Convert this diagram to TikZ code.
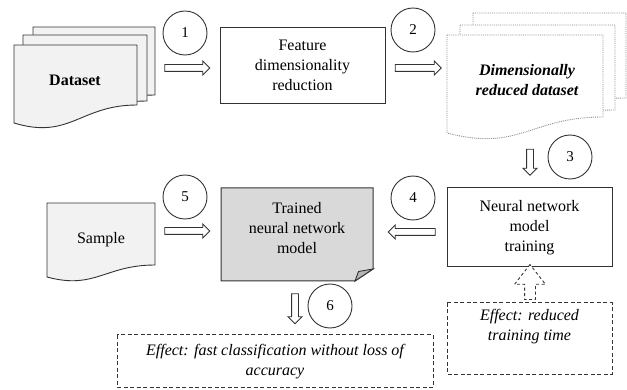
\documentclass[tikz,border=0pt]{standalone}
\usepackage{fontspec}
\setmainfont{Liberation Serif}
\usetikzlibrary{shapes.arrows}
\definecolor{linec}{HTML}{333333}
\definecolor{docfill}{HTML}{F2F2F2}
\definecolor{trainedfill}{HTML}{D9D9D9}
\definecolor{foldfill}{HTML}{B5B5B5}
\definecolor{dotc}{HTML}{8C8C8C}
\tikzset{
  docsolid/.style={draw=linec, fill=docfill, line width=0.9pt},
  docdotted/.style={draw=dotc, fill=white, line width=0.9pt, densely dotted},
  plainbox/.style={draw=linec, line width=1pt, minimum width=165pt, minimum height=76pt, align=center, fill=white},
  numcircle/.style={circle, draw=linec, line width=0.9pt, minimum size=44pt, inner sep=0pt, font=\fontsize{15}{18}\selectfont},
  dashbox/.style={draw=linec, line width=1pt, dash pattern=on 4pt off 2.5pt},
  blockarrow/.style={single arrow, draw=linec, fill=white, line width=0.9pt, inner sep=0pt,
     text height=0pt, text depth=0pt, inner ysep=3pt, single arrow head extend=3.5pt},
  txt/.style={align=center, inner sep=0pt}
}
\begin{document}
\begin{tikzpicture}[x=1pt,y=-1pt,font=\fontsize{16}{20}\selectfont]
\useasboundingbox (0,0) rectangle (627,390);

% Dataset stack
\draw[docsolid] (33,27) -- (155,27) -- (155,95) .. controls (94,95) and (88,130) .. (33,113) -- cycle;
\draw[docsolid] (23,35) -- (147,35) -- (147,101) .. controls (85,101) and (75,136) .. (23,118) -- cycle;
\draw[docsolid] (14,45) -- (137,45) -- (137,105) .. controls (80,105) and (70,140) .. (14,123) -- cycle;
\node[txt, font=\fontsize{16}{20}\selectfont\bfseries] (dataset) at (75,80) {Dataset};

% circle 1 and arrow 1
\node[numcircle] (c1) at (185,33) {1};
\node[blockarrow, minimum height=45pt] (a1) at (185.5,68) {};

% Feature box
\node[plainbox] (feat) at (302.5,65.5) {Feature\\dimensionality\\reduction};

% circle 2 and arrow 2
\node[numcircle] (c2) at (413,30) {2};
\node[blockarrow, minimum height=46pt] (a2) at (416.5,68) {};

% Dimensionally reduced dataset (dotted stack)
\draw[docdotted] (473,13) -- (626,13) -- (626,98) .. controls (550,98) and (540,132) .. (473,114) -- cycle;
\draw[docdotted] (460,25) -- (615,25) -- (615,110) .. controls (540,110) and (530,145) .. (460,126) -- cycle;
\draw[docdotted] (447,35) -- (603,35) -- (603,117) .. controls (530,117) and (520,152) .. (447,133) -- cycle;
\node[txt, font=\fontsize{16}{20}\selectfont\bfseries\itshape] (dimred) at (527,80) {Dimensionally\\reduced dataset};

% circle 3 and arrow 3
\node[numcircle] (c3) at (570,157) {3};
\node[blockarrow, minimum height=26pt, rotate=-90] (a3) at (530,160.5) {};

% Neural network model training
\node[plainbox, minimum height=79pt] (train) at (529.5,227.5) {Neural network\\model\\training};

% circle 4 and arrow 4
\node[numcircle] (c4) at (413,198) {4};
\node[blockarrow, minimum height=47pt, rotate=180] (a4) at (413.5,232) {};

% Trained neural network model (folded corner)
\draw[draw=linec, fill=trainedfill, line width=1pt] (221,188) -- (373,188) -- (373,269) -- (355,281) -- (221,281) -- cycle;
\draw[draw=linec, fill=foldfill, line width=0.9pt] (355,281) -- (358.5,271.5) -- (373,269) -- cycle;
\node[txt] (trained) at (297,228) {Trained\\neural network\\model};

% Sample
\draw[docsolid] (47,203) -- (155,203) -- (155,265) .. controls (105,265) and (95,290) .. (47,277) -- cycle;
\node[txt] (sample) at (101,240) {Sample};

% circle 5 and arrow 5
\node[numcircle] (c5) at (185,197) {5};
\node[blockarrow, minimum height=45pt] (a5) at (185.5,231) {};

% circle 6 and arrow 6
\node[numcircle] (c6) at (330,306) {6};
\node[blockarrow, minimum height=30pt, rotate=-90] (a6) at (295,307) {};

% Effect boxes
\draw[dashbox] (117,335) rectangle (433,387);
\node[txt, font=\fontsize{16}{20}\selectfont\itshape] (eff1) at (275,362) {Effect: fast classification without loss of\\accuracy};

\draw[dashbox, fill=white] (447,303) rectangle (612,374);
\node[txt, font=\fontsize{16}{20}\selectfont\itshape] (eff2) at (529.5,327) {Effect: reduced\\training time};

% dashed up arrow
\node[single arrow, draw=linec, fill=white, line width=0.9pt, dash pattern=on 3pt off 2.5pt,
  inner sep=0pt, text height=0pt, text depth=0pt, inner ysep=5pt, single arrow head extend=10pt,
  single arrow tip angle=76, minimum height=35pt, rotate=90] (a7) at (530,285.5) {};
\end{tikzpicture}
\end{document}
